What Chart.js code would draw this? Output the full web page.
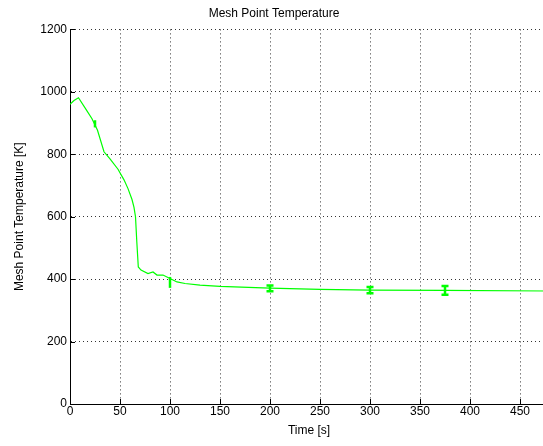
<!DOCTYPE html>
<html>
<head>
<meta charset="utf-8">
<script src="https://cdn.jsdelivr.net/npm/chart.js@4.4.0/dist/chart.umd.min.js"></script>
<style>
  html, body { margin: 0; padding: 0; background: #fff; overflow: hidden; }
  #wrap { width: 548px; height: 446px; }
</style>
</head>
<body>
<div id="wrap"><canvas id="myChart"></canvas></div>
<script>
// time [s] and temperature [K]
var timeS = [0, 4, 8.5, 16, 22, 27.5, 34, 40, 48, 54, 58, 62, 64, 65.5, 66.8, 68.3, 71, 78, 83, 87,
  93, 100, 107, 115, 130, 150, 200, 250, 300, 375, 480];
var tempK = [960, 972, 981, 944, 914, 877, 808, 785, 752, 718, 690, 655, 630, 600, 520, 439, 429,
  418, 423, 413, 413, 402, 391, 386, 381, 377, 371, 367, 365, 364, 362];

// error bars
var errTime = [25, 100, 200, 300, 375];
var errLow = [886, 372, 361, 355, 350];
var errHigh = [909, 407, 380, 375, 378];

var xTicks = [0, 50, 100, 150, 200, 250, 300, 350, 400, 450];
var yTicks = [0, 200, 400, 600, 800, 1000, 1200];

var lineData = timeS.map(function (t, i) { return { x: t, y: tempK[i] }; });

// MATLAB style inward ticks
var inwardTicks = {
  id: 'inwardTicks',
  afterDraw: function (chart) {
    var c = chart.ctx, a = chart.chartArea;
    var xs = chart.scales.x, ys = chart.scales.y;
    c.save();
    c.strokeStyle = '#000';
    c.lineWidth = 1;
    c.beginPath();
    xTicks.forEach(function (v) {
      var px = Math.round(xs.getPixelForValue(v)) + 0.5;
      c.moveTo(px, a.bottom); c.lineTo(px, a.bottom - 5);
    });
    yTicks.forEach(function (v) {
      var py = Math.round(ys.getPixelForValue(v)) + 0.5;
      c.moveTo(a.left, py); c.lineTo(a.left + 5, py);
    });
    c.stroke();
    c.restore();
  }
};

// error bars drawn through the scales
var errorBars = {
  id: 'errorBars',
  afterDatasetsDraw: function (chart, args, opts) {
    var c = chart.ctx;
    var xs = chart.scales.x, ys = chart.scales.y;
    c.save();
    c.strokeStyle = '#00ff00';
    c.lineWidth = 2.5;
    errTime.forEach(function (t, i) {
      var px = xs.getPixelForValue(t);
      var lo = ys.getPixelForValue(errLow[i]);
      var hi = ys.getPixelForValue(errHigh[i]);
      c.beginPath();
      c.moveTo(px, lo); c.lineTo(px, hi);
      if (opts.caps[i]) {
        c.moveTo(px - 3.5, lo); c.lineTo(px + 3.5, lo);
        c.moveTo(px - 3.5, hi); c.lineTo(px + 3.5, hi);
      }
      c.stroke();
    });
    c.restore();
  }
};

var font12 = { family: 'Liberation Sans', size: 12 };

var ctx = document.getElementById('myChart').getContext('2d');
var chart = new Chart(ctx, {
  type: 'scatter',
  data: {
    datasets: [{
      data: lineData,
      showLine: true,
      borderColor: '#00ff00',
      borderWidth: 1.2,
      pointRadius: 0,
      tension: 0
    }]
  },
  options: {
    responsive: true,
    maintainAspectRatio: false,
    animation: false,
    layout: { padding: { top: 4, right: 0, left: 0, bottom: 0 } },
    plugins: {
      legend: { display: false },
      tooltip: { enabled: false },
      errorBars: { caps: [false, false, true, true, true] },
      title: {
        display: true,
        text: 'Mesh Point Temperature',
        color: '#000',
        font: { family: 'Liberation Sans', size: 12, weight: 'normal' },
        padding: { top: 2, bottom: 9 }
      }
    },
    scales: {
      x: {
        type: 'linear',
        min: 0,
        max: 478,
        afterBuildTicks: function (s) { s.ticks = xTicks.map(function (v) { return { value: v }; }); },
        ticks: { color: '#000', font: font12, padding: 0, maxRotation: 0,
          callback: function (v) { return String(v); } },
        grid: { color: '#333', drawTicks: false, tickLength: 0 },
        border: { display: true, color: '#000', width: 1, dash: [1, 3] },
        title: { display: true, text: 'Time [s]', color: '#000', padding: { top: 0, bottom: 8 },
          font: font12 },
        afterFit: function (s) { s.height = 42; }
      },
      y: {
        min: 0,
        max: 1200,
        afterBuildTicks: function (s) { s.ticks = yTicks.map(function (v) { return { value: v }; }); },
        ticks: { color: '#000', font: font12, padding: 3,
          callback: function (v) { return String(v); } },
        grid: { color: '#333', drawTicks: false, tickLength: 0 },
        border: { display: true, color: '#000', width: 1, dash: [1, 3] },
        title: { display: true, text: 'Mesh Point Temperature [K]', color: '#000', padding: { top: 12, bottom: 0 },
          font: font12 },
        afterFit: function (s) { s.width = 70; }
      }
    }
  },
  plugins: [inwardTicks, errorBars]
});
</script>
</body>
</html>
